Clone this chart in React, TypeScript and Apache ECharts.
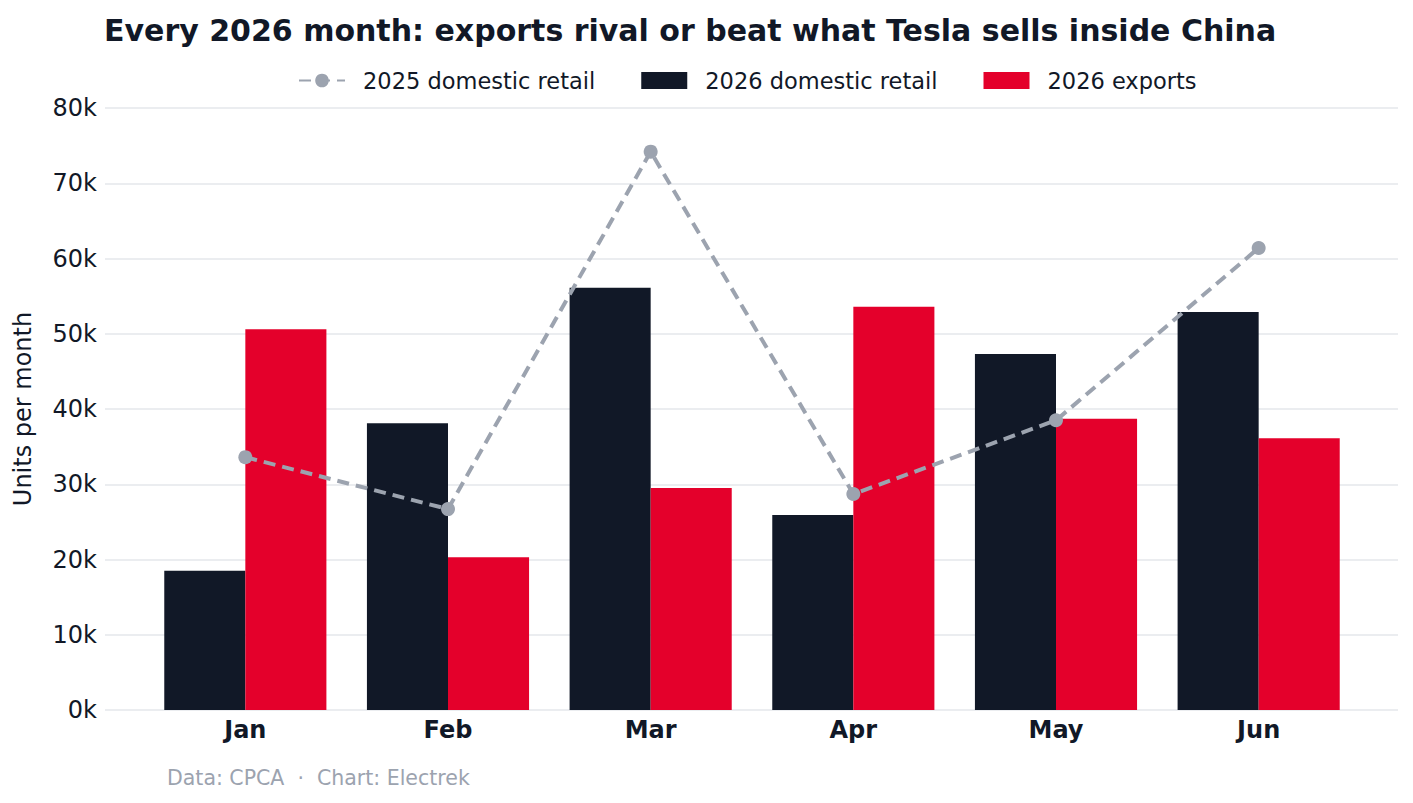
import { useEffect, useRef } from "react";
import * as echarts from "echarts";

const MONTHS = ["Jan", "Feb", "Mar", "Apr", "May", "Jun"];
const DOMESTIC_2025 = [33600, 26700, 74200, 28700, 38500, 61400];
const DOMESTIC_2026 = [18500, 38100, 56100, 25900, 47300, 52900];
const EXPORTS_2026 = [50600, 20300, 29500, 53600, 38700, 36100];

const FONT = "DejaVu Sans";

export default function App() {
  const ref = useRef<HTMLDivElement>(null);

  useEffect(() => {
    document.body.style.margin = "0";
    if (!ref.current) return;
    const chart = echarts.init(ref.current, undefined, { renderer: "svg" });
    const yBase = { type: "value" as const, min: 0, max: 80000, interval: 10000 };
    chart.setOption({
      animation: false,
      textStyle: { fontFamily: FONT },
      title: {
        text: "Every 2026 month: exports rival or beat what Tesla sells inside China",
        left: 99,
        top: 10,
        textStyle: { fontSize: 30, fontWeight: "bold", color: "#111827", fontFamily: FONT },
      },
      legend: {
        top: 64,
        left: 293,
        itemWidth: 46,
        itemHeight: 17,
        itemGap: 46,
        textStyle: { fontSize: 22.5, color: "#111827", fontFamily: FONT, padding: [0, 0, 0, 13] },
        data: [
          { name: "2025 domestic retail" },
          { name: "2026 domestic retail", icon: "rect" },
          { name: "2026 exports", icon: "rect" },
        ],
      },
      graphic: [
        {
          type: "text",
          left: 167,
          top: 767,
          style: { text: "Data: CPCA  ·  Chart: Electrek", fontSize: 20.5, fill: "#9ca3af", fontFamily: FONT },
        },
      ],
      grid: [
        { left: 105, right: 15, top: 108, bottom: 93 },
        { left: 144, right: 53, top: 108, bottom: 93 },
      ],
      xAxis: [
        { gridIndex: 0, type: "value", show: false, min: 0, max: 1 },
        {
          gridIndex: 1,
          type: "category",
          data: MONTHS,
          axisLine: { show: false },
          axisTick: { show: false },
          axisLabel: { fontSize: 24, fontWeight: "bold", color: "#111827", margin: 8 },
        },
      ],
      yAxis: [
        {
          ...yBase,
          gridIndex: 0,
          name: "Units per month",
          nameLocation: "middle",
          nameGap: 70,
          nameTextStyle: { fontSize: 24, color: "#111827" },
          axisLabel: {
            fontSize: 24,
            color: "#111827",
            margin: 8,
            formatter: (v: number) => `${v / 1000}k`,
          },
          axisLine: { show: false },
          axisTick: { show: false },
          splitLine: { lineStyle: { color: "#e5e7eb", width: 1.5 } },
        },
        { ...yBase, gridIndex: 1, show: false, splitLine: { show: false } },
      ],
      series: [
        {
          name: "2026 domestic retail",
          type: "bar",
          xAxisIndex: 1,
          yAxisIndex: 1,
          data: DOMESTIC_2026,
          barGap: "0%",
          barCategoryGap: "20%",
          itemStyle: { color: "#111827" },
        },
        {
          name: "2026 exports",
          type: "bar",
          xAxisIndex: 1,
          yAxisIndex: 1,
          data: EXPORTS_2026,
          itemStyle: { color: "#e4002b" },
        },
        {
          name: "2025 domestic retail",
          type: "line",
          xAxisIndex: 1,
          yAxisIndex: 1,
          data: DOMESTIC_2025,
          symbol: "circle",
          symbolSize: 14,
          z: 5,
          lineStyle: { color: "#9ca3af", width: 4, type: [12, 7] },
          itemStyle: { color: "#9ca3af" },
        },
      ],
    });
    return () => chart.dispose();
  }, []);

  return <div ref={ref} style={{ width: 1413, height: 803 }} />;
}
